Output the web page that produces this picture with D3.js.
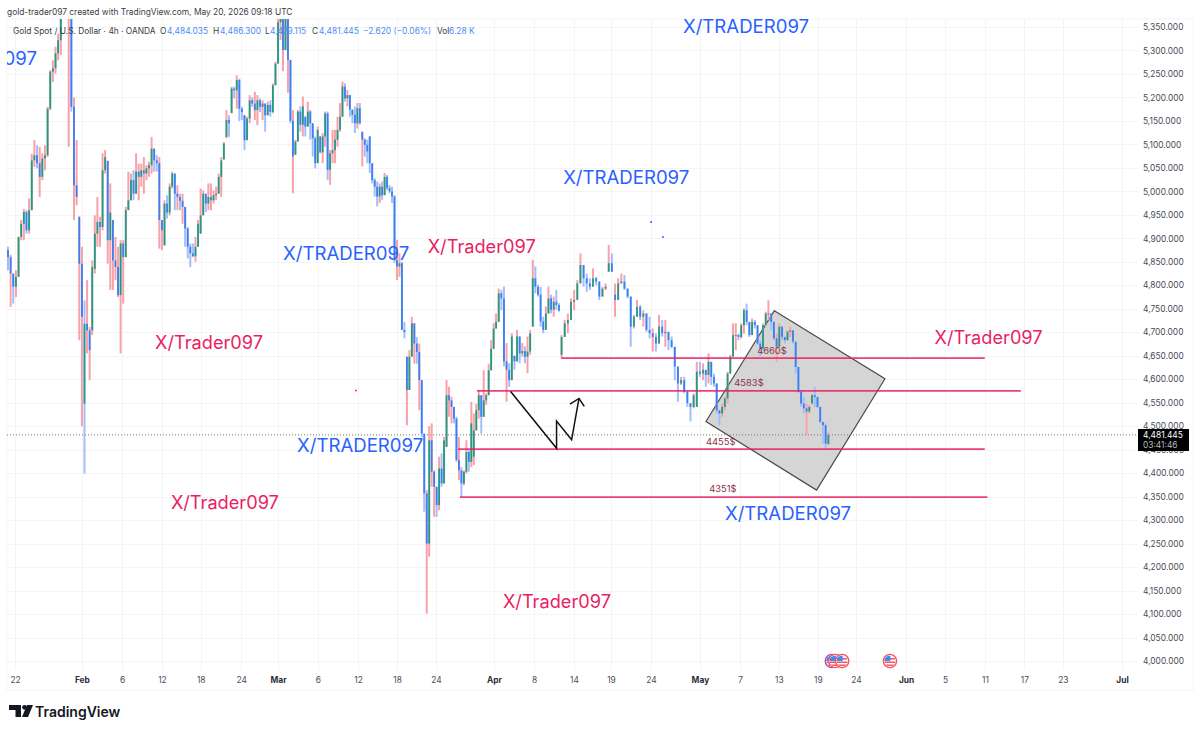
<!DOCTYPE html>
<html><head><meta charset="utf-8">
<style>html,body{margin:0;padding:0;background:#fff}svg{display:block}text{font-family:Inter,"Noto Sans",sans-serif}</style>
<script src="https://cdn.jsdelivr.net/npm/d3@7/dist/d3.min.js"></script>
</head><body><svg id="c" width="1200" height="732"></svg>
<script>
// Candles per stretch of the chart: [open, high, low, close]
const janBars=[[4875,4882,4832,4860],[4860,4865,4754,4825],[4825,4825,4761,4797],[4797,4832,4775,4818],[4818,4903,4818,4903],[4903,4939,4896,4931],[4931,4963,4896,4956],[4956,4960,4910,4917],[4917,4985,4910,4960],[4960,5080,4960,5066],[5066,5109,5052,5077],[5077,5098,5049,5060],[5060,5095,4988,5031],[5031,5081,5024,5070],[5070,5098,5045,5077],[5077,5180,5073,5176],[5176,5258,5173,5255],[5255,5279,5233,5262],[5262,5308,5251,5294],[5294,5336,5279,5322],[5322,5450,5290,5420],[5420,5580,5420,5550],[5550,5600,5500,5560],[5560,5600,5095,5480],[5480,5490,5170,5180],[5180,5200,4939,5013],[5013,5109,4970,4988],[4946,4946,4683,4846]];
const febBars=[[4846,4882,4500,4733],[4548,4768,4399,4718,0],[4718,4811,4655,4704],[4704,4711,4598,4662],[4704,4853,4694,4839],[4835,4949,4825,4910],[4910,4988,4882,4935],[4935,4946,4882,4924],[4924,5081,4917,5045],[5045,5088,5038,5073],[5065,5065,4846,4896],[4896,5017,4790,4955],[4939,4939,4790,4853],[4853,4903,4811,4839],[4839,4882,4775,4779],[4779,4896,4655,4889],[4889,4896,4761,4860],[4860,4967,4860,4960],[4960,5042,4960,4981],[4981,5038,4981,5024],[5024,5045,4981,4995],[4995,5081,4995,5042],[5042,5059,4981,5031],[5031,5059,5010,5045],[5045,5073,4995,5038],[5038,5056,5024,5049],[5049,5063,5031,5056],[5056,5116,5038,5091],[5091,5091,5042,5066],[5066,5077,5042,5060],[5060,5073,4878,4939],[4939,4939,4875,4917],[4885,4981,4885,4974],[4974,4992,4942,4955],[4955,5017,4949,5010],[5010,5042,5006,5038],[5038,5038,4960,4995],[4995,5013,4960,4988],[4988,4995,4960,4980],[4980,4995,4931,4967],[4967,4967,4882,4921],[4921,4924,4857,4882],[4882,4889,4839,4868],[4868,4889,4860,4862],[4862,4903,4850,4882],[4882,4939,4882,4931],[4910,5006,4910,4949],[4949,5002,4949,4995],[4995,4995,4956,4974],[4974,5017,4960,4988],[4988,5017,4960,4981],[4981,5002,4974,4992],[4992,5010,4981,4995],[4995,5038,4995,5031],[5031,5073,4988,5066],[5068,5105,5068,5102],[5116,5173,5113,5152],[5152,5162,5116,5145],[5167,5223,5166,5219],[5219,5223,5198,5215],[5215,5247,5176,5237],[5237,5240,5150,5176],[5176,5180,5152,5169],[5162,5162,5088,5109],[5109,5159,5109,5155],[5155,5205,5145,5194],[5194,5201,5180,5187],[5187,5212,5152,5173],[5173,5205,5141,5194],[5194,5198,5169,5180],[5180,5194,5152,5187],[5187,5187,5127,5162],[5162,5191,5162,5184],[5184,5194,5159,5169],[5169,5230,5166,5226],[5226,5276,5226,5272]];
const marBars=[[5272,5400,5272,5360],[5360,5420,5322,5390],[5390,5400,5256,5301],[5301,5390,5301,5370],[5370,5370,5210,5280],[5280,5280,5145,5150],[5150,5173,4996,5074],[5078,5110,5078,5106],[5106,5173,5106,5170],[5170,5181,5127,5142],[5142,5202,5117,5181],[5159,5159,5117,5138],[5138,5191,5138,5170],[5170,5173,5110,5145],[5145,5145,5074,5113],[5113,5117,5049,5060],[5060,5138,5060,5131],[5117,5117,5081,5083],[5083,5124,5060,5117],[5117,5170,5095,5166],[5166,5170,5024,5046,0],[5046,5088,5014,5081],[5081,5131,5060,5088],[5088,5131,5060,5110],[5110,5159,5095,5131],[5131,5188,5127,5159],[5159,5234,5159,5223],[5223,5230,5191,5198],[5198,5216,5181,5205],[5205,5205,5159,5174],[5174,5174,5145,5163],[5163,5181,5124,5145],[5145,5188,5134,5177],[5177,5188,5142,5145],[5127,5127,5053,5110],[5110,5113,5074,5099],[5099,5110,5060,5085],[5117,5117,5039,5060],[5060,5060,5017,5024],[5024,5028,4989,5010],[5010,5021,4968,4989],[4989,5017,4975,5010],[5010,5021,4982,4992],[4992,5039,4992,5031],[5031,5035,5003,5007],[5007,5014,4996,5000],[5000,5010,4975,4989],[4989,4992,4847,4854],[4854,4897,4811,4840],[4840,4868,4818,4847],[4847,4850,4705,4705],[4705,4722,4687,4700],[4648,4648,4502,4577],[4577,4662,4577,4648],[4648,4733,4648,4719],[4719,4719,4633,4676],[4676,4690,4633,4658],[4658,4676,4534,4598],[4598,4598,4477,4484],[4484,4484,4318,4357],[4357,4364,4101,4250],[4250,4500,4222,4470],[4470,4506,4371,4403],[4403,4406,4307,4371],[4371,4371,4307,4332],[4332,4435,4321,4410],[4410,4442,4371,4378],[4378,4477,4378,4470],[4456,4598,4456,4566],[4566,4584,4520,4555],[4555,4563,4506,4541],[4541,4541,4506,4516],[4516,4520,4424,4428],[4428,4477,4385,4406],[4406,4413,4349,4378],[4378,4406,4374,4403],[4403,4470,4399,4445],[4445,4449,4403,4424],[4424,4552,4413,4506],[4435,4527,4417,4491],[4491,4548,4491,4534],[4534,4577,4516,4566],[4566,4566,4484,4520],[4520,4619,4520,4555],[4555,4570,4545,4566],[4566,4633,4566,4619],[4619,4683,4619,4665],[4665,4719,4665,4708]];
const earlyAprBars=[[4708,4740,4708,4722],[4722,4793,4722,4783],[4783,4790,4747,4772],[4772,4797,4627,4638],[4638,4677,4552,4620],[4620,4634,4584,4598],[4598,4698,4598,4691],[4650,4650,4620,4638],[4638,4705,4638,4691],[4691,4691,4634,4655],[4655,4677,4648,4660],[4660,4670,4634,4648],[4648,4691,4613,4659],[4659,4705,4652,4698],[4712,4854,4712,4815],[4815,4840,4783,4797],[4797,4801,4776,4780],[4780,4797,4712,4723],[4723,4733,4698,4705],[4705,4755,4705,4740],[4740,4797,4740,4772],[4772,4780,4740,4748],[4748,4776,4733,4765],[4765,4790,4748,4758],[4758,4762,4744,4746]];
const lateAprBars=[[4652,4694,4644,4690],[4690,4726,4690,4719],[4719,4740,4698,4726],[4726,4772,4726,4765],[4765,4790,4747,4769],[4769,4811,4769,4804],[4804,4868,4804,4843],[4843,4843,4797,4815],[4815,4825,4786,4804],[4804,4815,4790,4797],[4797,4836,4797,4815],[4815,4818,4800,4808],[4808,4808,4769,4776],[4776,4797,4776,4793],[4793,4804,4790,4797],[4829,4886,4829,4847],[4847,4868,4829,4829],[4780,4804,4733,4769],[4769,4815,4769,4804],[4804,4825,4804,4808],[4808,4822,4790,4793],[4793,4793,4772,4776],[4776,4776,4669,4712,0],[4712,4737,4708,4733],[4733,4769,4733,4754],[4754,4758,4726,4733],[4733,4747,4712,4740],[4740,4740,4701,4705],[4705,4733,4687,4698],[4698,4708,4659,4690],[4690,4698,4659,4676],[4676,4737,4676,4712],[4712,4726,4691,4698],[4698,4726,4669,4701],[4701,4701,4662,4683],[4683,4691,4666,4669],[4669,4669,4598,4627],[4627,4627,4552,4591],[4591,4605,4588,4598],[4598,4605,4570,4573],[4573,4577,4541,4549],[4549,4549,4510,4541],[4541,4570,4538,4566],[4541,4637,4541,4616],[4616,4637,4605,4612]];
const mayBars=[[4612,4634,4598,4620],[4620,4620,4584,4609],[4609,4655,4591,4637],[4637,4637,4588,4605],[4605,4612,4584,4591],[4591,4591,4527,4534],[4534,4534,4502,4527],[4527,4548,4520,4541],[4541,4563,4534,4559],[4559,4616,4548,4612],[4612,4652,4612,4648],[4648,4719,4648,4694],[4694,4719,4662,4694],[4694,4697,4683,4690],[4690,4719,4687,4715],[4715,4751,4697,4747],[4747,4761,4715,4722],[4722,4722,4690,4694],[4694,4729,4694,4722],[4722,4726,4708,4715],[4715,4715,4673,4676],[4676,4683,4648,4665],[4665,4719,4665,4715],[4715,4744,4712,4740],[4740,4768,4726,4740],[4740,4740,4705,4722],[4722,4722,4683,4687],[4687,4697,4637,4669],[4669,4719,4669,4712],[4712,4712,4683,4690],[4690,4690,4676,4683],[4683,4704,4683,4701],[4701,4712,4690,4704],[4704,4704,4676,4680],[4680,4680,4612,4626],[4626,4626,4570,4573],[4573,4577,4541,4548],[4548,4562,4527,4538],[4538,4548,4481,4531],[4531,4545,4527,4541],[4548,4569,4548,4566],[4566,4584,4541,4562],[4562,4562,4538,4541],[4541,4541,4506,4509],[4509,4509,4463,4502],[4502,4506,4452,4463],[4462,4486.3,4460,4481.445]];
const stretches=[janBars,febBars,marBars,earlyAprBars,lateAprBars,mayBars];
// slot of the time axis where each stretch begins (the last entry ends the final one)
const stretchStarts=[0,28,102.3,184.9,209.7,263.3,311.8];

const timeLabels=["22","Feb","6","12","18","24","Mar","6","12","18","24","Apr","8","14","19","24","May","7","13","19","24","Jun","5","11","17","23","Jul"];
const timeSlots=[2.65,28,43.2,58.3,73,88.3,102.3,117.4,132.6,147.4,162.1,184.1,199.3,214.4,228.4,243.6,262.1,277.3,292,306.8,321.2,340.2,355,370.1,385,399.6,422];
const boldLabels=["Feb","Mar","Apr","May","Jun","Jul"];
const priceTicks=d3.range(4000,5351,50);
const lastPrice=4481.445;
const levelLines=[{price:4645,from:209.6,to:370,label:"4660$",lx:289.4,lp:4660},{price:4575,from:177.7,to:383.7,label:"4583$",lx:280.7,lp:4592},{price:4451,from:170.5,to:370,label:"4455$",lx:270,lp:4466},{price:4349,from:171.2,to:371,label:"4351$",lx:270.8,lp:4366}];
const zoneSlots=[290.3,332.2,306.3,264.4];
const zonePrices=[4746,4601,4364,4510];
const zigSlots=[190.4,207.8,207.8,213.5,216.3];
const zigPrices=[4574,4453,4511,4471,4559];
const headSlots=[212.9,216.3,218.3];
const headPrices=[4547,4559,4542];
const blueMarks=[{t:"X/TRADER097",s:255.7,p:5337},{t:"X/TRADER097",s:210.3,p:5016},{t:"X/TRADER097",s:104.2,p:4854},{t:"X/TRADER097",s:109.5,p:4445},{t:"X/TRADER097",s:271.6,p:4300}];
const redMarks=[{t:"X/Trader097",s:159,p:4869},{t:"X/Trader097",s:55.7,p:4664},{t:"X/Trader097",s:61.7,p:4324},{t:"X/Trader097",s:187.5,p:4113},{t:"X/Trader097",s:351,p:4675}];
const dotMarks=[{s:131.8,p:4576,c:"#f23645"},{s:243.6,p:4935,c:"#2962ff"},{s:248.1,p:4903,c:"#2962ff"}];
const eventSlots=[312.1,313.4,316,334.1];
const eventColors=["#ab47bc","#f7525f","#f7525f","#f7525f"];

const svg=d3.select("#c");
const x=d3.scaleLinear().domain([0,422]).range([8,1122]);
const y=d3.scaleLinear().domain([4000,5350]).range([661,27]);
const defs=svg.append("defs");
defs.append("clipPath").attr("id","plot").append("rect").attr("x",7).attr("y",19).attr("width",1131).attr("height",651);
defs.append("clipPath").attr("id","ev").append("circle").attr("r",5.6);

// frame
svg.append("rect").attr("x",7).attr("y",19).attr("width",1186).attr("height",671).attr("fill","none").attr("stroke","#f6f6f8");
// grid
const grid=svg.append("g").attr("stroke","#f3f4f6").attr("fill","none");
grid.selectAll(".h").data(priceTicks).join("line").attr("x1",7).attr("x2",1138).attr("y1",d=>Math.round(y(d))+.5).attr("y2",d=>Math.round(y(d))+.5);
grid.selectAll(".v").data(timeSlots).join("line").attr("y1",19).attr("y2",670).attr("x1",d=>Math.round(x(d))+.5).attr("x2",d=>Math.round(x(d))+.5);

// axes
const yAxis=d3.axisRight(y).tickValues(priceTicks).tickSize(0).tickPadding(0).tickFormat(d3.format(",.3f"));
const ya=svg.append("g").attr("transform","translate(1143,0)").call(yAxis);
ya.select(".domain").remove();
ya.selectAll("text").attr("fill","#4a4c55").style("font-size","8.4px").style("font-family","Inter");
const xAxis=d3.axisBottom(x).tickValues(timeSlots).tickSize(0).tickPadding(0).tickFormat((d,i)=>timeLabels[i]);
const xa=svg.append("g").attr("transform","translate(0,677)").call(xAxis);
xa.select(".domain").remove();
xa.selectAll("text").style("font-family","Inter").style("font-size","8.4px")
  .style("font-weight",(d,i)=>boldLabels.includes(timeLabels[i])?700:400)
  .style("fill",(d,i)=>boldLabels.includes(timeLabels[i])?"#2a2e39":"#4a4c55");

const plot=svg.append("g").attr("clip-path","url(#plot)");
// grey zone below candles
const line=d3.line();
plot.append("path").attr("d",line(zoneSlots.map((s,i)=>[x(s),y(zonePrices[i])]))+"Z")
  .attr("fill","#d5d5d5").attr("stroke","#4a4a4a").attr("stroke-width",1.2);
// last price
plot.append("line").attr("x1",7).attr("x2",1138).attr("y1",y(lastPrice)).attr("y2",y(lastPrice)).attr("stroke","#777").attr("stroke-dasharray","1 2");

// candles
const bars=[];
stretches.forEach((m,k)=>m.forEach((b,j)=>bars.push({s:stretchStarts[k]+j*(stretchStarts[k+1]-stretchStarts[k])/m.length,o:b[0],h:b[1],l:b[2],c:b[3],tone:b[4]})));
const up=d=>d.c>=d.o;
const longWick=d=>(d.h-d.l)-Math.abs(d.c-d.o)>=40;
const wickColor=d=>d.tone===0?"#a3bffa":(up(d)||longWick(d))?"#f9a1a9":"#a3bffa";
plot.append("g").selectAll("line").data(bars).join("line")
  .attr("x1",d=>x(d.s)).attr("x2",d=>x(d.s)).attr("y1",d=>y(d.h)).attr("y2",d=>y(d.l))
  .attr("stroke",wickColor).attr("stroke-width",2);
plot.append("g").selectAll("rect").data(bars).join("rect")
  .attr("x",d=>x(d.s)-.9).attr("width",1.8)
  .attr("y",d=>y(Math.max(d.o,d.c))).attr("height",d=>Math.max(1,Math.abs(y(d.o)-y(d.c))))
  .attr("fill",d=>up(d)?"#1f9c85":"#3b7ff2");

// level lines and their labels
plot.selectAll(".lvl").data(levelLines).join("line").attr("class","lvl")
  .attr("x1",d=>x(d.from)).attr("x2",d=>x(d.to)).attr("y1",d=>y(d.price)).attr("y2",d=>y(d.price))
  .attr("stroke","#e91e63").attr("stroke-opacity",.85).attr("stroke-width",1.7);
plot.selectAll(".lvlt").data(levelLines).join("text").attr("class","lvlt")
  .attr("x",d=>x(d.lx)).attr("y",d=>y(d.lp)).attr("dy","0.35em").attr("text-anchor","middle")
  .attr("fill","#8a3344").style("font-size","9.4px").text(d=>d.label);

// zigzag
plot.append("path").attr("d",line(zigSlots.map((s,i)=>[x(s),y(zigPrices[i])]))).attr("fill","none").attr("stroke","#111").attr("stroke-width",1.5);
plot.append("path").attr("d",line(headSlots.map((s,i)=>[x(s),y(headPrices[i])]))).attr("fill","none").attr("stroke","#111").attr("stroke-width",1.5);

// dots
plot.selectAll(".dot").data(dotMarks).join("circle").attr("class","dot").attr("cx",d=>x(d.s)).attr("cy",d=>y(d.p)).attr("r",1).attr("fill",d=>d.c);

// watermarks
plot.selectAll(".wb").data(blueMarks).join("text").attr("class","wb").attr("x",d=>x(d.s)).attr("y",d=>y(d.p))
  .attr("fill","#2962ff").style("font-size","18.6px").text(d=>d.t);
plot.selectAll(".wr").data(redMarks).join("text").attr("class","wr").attr("x",d=>x(d.s)).attr("y",d=>y(d.p))
  .attr("fill","#e91e63").style("font-size","18.2px").text(d=>d.t);
plot.append("text").attr("x",x(11)).attr("y",y(5269)).attr("text-anchor","end").attr("fill","#2962ff").style("font-size","18.6px").text("X/TRADER097");

// event flags
const ev=plot.selectAll(".evt").data(eventSlots).join("g").attr("class","evt").attr("transform",d=>`translate(${x(d)},${y(4000)})`);
ev.append("circle").attr("r",6.6).attr("fill","#fff").attr("stroke",(d,i)=>eventColors[i]).attr("stroke-width",1.4);
ev.each(function(){
  const g=d3.select(this).append("g").attr("clip-path","url(#ev)");
  g.append("rect").attr("x",-6).attr("y",-6).attr("width",12).attr("height",12).attr("fill","#fff");
  [-3,0.5,3.5].forEach(o=>g.append("rect").attr("x",-6).attr("y",o).attr("width",12).attr("height",1.5).attr("fill","#f7525f"));
  g.append("rect").attr("x",-6).attr("y",-6).attr("width",6.5).attr("height",6).attr("fill","#3d8bf0");
});

// last price tag
svg.append("rect").attr("x",1138).attr("y",429).attr("width",51).attr("height",22).attr("fill","#000");
svg.append("text").attr("x",1143).attr("y",438).attr("fill","#fff").style("font-size","8.4px").text("4,481.445");
svg.append("text").attr("x",1143).attr("y",448).attr("fill","#b8b8b8").style("font-size","8.4px").text("03:41:46");

// header
svg.append("text").attr("x",7).attr("y",15).attr("fill","#3a3d45").style("font-size","8.4px").text("gold-trader097 created with TradingView.com, May 20, 2026 09:18 UTC");
const legend=[["Gold Spot / U.S. Dollar · 4h · OANDA",13,"#3a3d45"],["O",160,"#3a3d45"],["4,484.035",167,"#4e8df5"],["H",213,"#3a3d45"],["4,486.300",220,"#4e8df5"],["L",265,"#3a3d45"],["4,479.115",270,"#4e8df5"],["C",312,"#3a3d45"],["4,481.445",319,"#4e8df5"],["−2.620 (−0.06%)",363,"#4e8df5"],["Vol",437,"#3a3d45"],["6.28 K",449,"#4e8df5"]];
svg.selectAll(".lg").data(legend).join("text").attr("class","lg").attr("x",d=>d[1]).attr("y",34).attr("fill",d=>d[2]).style("font-size","8.4px").text(d=>d[0]);

// logo
const logo=svg.append("g").attr("fill","#131722");
logo.append("path").attr("d","M9 705H21V717H15.5V710H9Z");
logo.append("circle").attr("cx",24.5).attr("cy",707.3).attr("r",2.4);
logo.append("path").attr("d","M27 705H33L28 717H22Z");
svg.append("text").attr("x",35).attr("y",717).attr("fill","#131722").style("font-size","14px").style("font-weight",600).text("TradingView");
</script></body></html>
